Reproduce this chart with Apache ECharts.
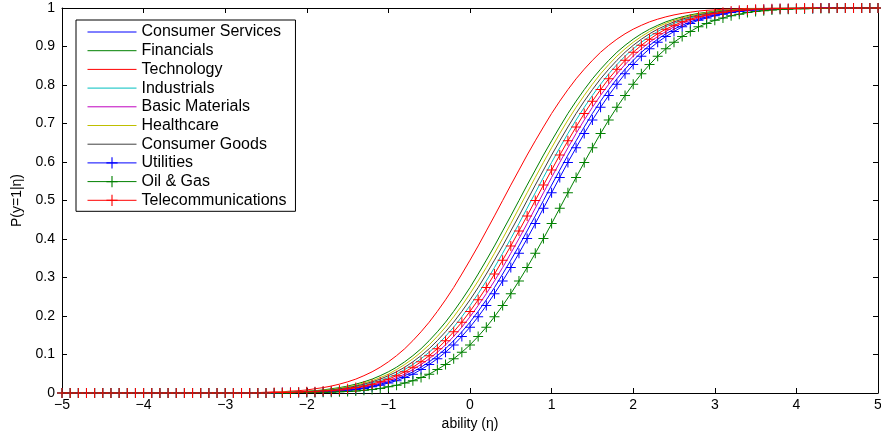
<!DOCTYPE html>
<html>
<head>
<meta charset="utf-8">
<script src="https://cdn.jsdelivr.net/npm/echarts@6/dist/echarts.min.js"></script>
<style>
html,body{margin:0;padding:0;background:#fff;}
#main{width:881px;height:434px;}
</style>
</head>
<body>
<div id="main"></div>
<script>
// ability grid (x)
var xs = [
  -5,-4.9,-4.8,-4.7,-4.6,-4.5,-4.4,-4.3,-4.2,-4.1,
  -4,-3.9,-3.8,-3.7,-3.6,-3.5,-3.4,-3.3,-3.2,-3.1,
  -3,-2.9,-2.8,-2.7,-2.6,-2.5,-2.4,-2.3,-2.2,-2.1,
  -2,-1.9,-1.8,-1.7,-1.6,-1.5,-1.4,-1.3,-1.2,-1.1,
  -1,-0.9,-0.8,-0.7,-0.6,-0.5,-0.4,-0.3,-0.2,-0.1,
  0,0.1,0.2,0.3,0.4,0.5,0.6,0.7,0.8,0.9,
  1,1.1,1.2,1.3,1.4,1.5,1.6,1.7,1.8,1.9,
  2,2.1,2.2,2.3,2.4,2.5,2.6,2.7,2.8,2.9,
  3,3.1,3.2,3.3,3.4,3.5,3.6,3.7,3.8,3.9,
  4,4.1,4.2,4.3,4.4,4.5,4.6,4.7,4.8,4.9,
  5
];

var names = ['Consumer Services','Financials','Technology','Industrials','Basic Materials',
  'Healthcare','Consumer Goods','Utilities','Oil & Gas','Telecommunications'];
var colors = ['#0000ff','#008000','#ff0000','#00bfbf','#bf00bf',
  '#bfbf00','#404040','#0000ff','#008000','#ff0000'];
var hasMarker = [false,false,false,false,false,false,false,true,true,true];

var xTicks = [-5,-4,-3,-2,-1,0,1,2,3,4,5];
var yTicks = [0,0.1,0.2,0.3,0.4,0.5,0.6,0.7,0.8,0.9,1];

// P(y=1|eta)
var consumerServices = [
  0,0,0,0,0,0,0,0,0,0, 0,0,0,0,0,0,0,0,0,0, 0,0,0,0,0,0,0,
  0.001,0.001,0.001,0.002,0.003,0.003,0.005,0.006,0.008,0.011,
  0.014,0.018,0.023,0.029,0.036,0.045,0.055,0.067,0.081,0.097,
  0.115,0.136,0.159,0.184,0.212,0.242,0.274,0.309,0.345,0.382,
  0.421,0.460,0.500,
  0.540,0.579,0.618,0.655,0.691,0.726,0.758,0.788,0.816,0.841,
  0.864,0.885,0.903,0.919,0.933,0.945,0.955,0.964,0.971,0.977,
  0.982,0.986,0.989,0.992,0.994,0.995,0.997,0.997,0.998,0.999,
  0.999,0.999,
  1,1,1,1,1,1,1,1,1
];
var financials = [
  0,0,0,0,0,0,0,0,0,0, 0,0,0,0,0,0,0,0,0,0, 0,0,0,0,
  0.001,0.001,0.001,0.002,0.003,0.003,0.005,0.006,0.008,0.011,
  0.014,0.018,0.023,0.029,0.036,0.045,0.055,0.067,0.081,0.097,
  0.115,0.136,0.159,0.184,0.212,0.242,0.274,0.309,0.345,0.382,
  0.421,0.460,0.500,
  0.540,0.579,0.618,0.655,0.691,0.726,0.758,0.788,0.816,0.841,
  0.864,0.885,0.903,0.919,0.933,0.945,0.955,0.964,0.971,0.977,
  0.982,0.986,0.989,0.992,0.994,0.995,0.997,0.997,0.998,0.999,
  0.999,0.999,
  1,1,1,1,1,1,1,1,1,1, 1,1
];
var technology = [
  0,0,0,0,0,0,0,0,0,0, 0,0,0,0,0,0,0,0,0,0, 0,0,
  0.001,0.001,0.001,0.002,0.003,0.003,0.005,0.006,0.008,0.011,
  0.014,0.018,0.023,0.029,0.036,0.045,0.055,0.067,0.081,0.097,
  0.115,0.136,0.159,0.184,0.212,0.242,0.274,0.309,0.345,0.382,
  0.421,0.460,0.500,
  0.540,0.579,0.618,0.655,0.691,0.726,0.758,0.788,0.816,0.841,
  0.864,0.885,0.903,0.919,0.933,0.945,0.955,0.964,0.971,0.977,
  0.982,0.986,0.989,0.992,0.994,0.995,0.997,0.997,0.998,0.999,
  0.999,0.999,
  1,1,1,1,1,1,1,1,1,1, 1,1,1,1
];
var industrials = [
  0,0,0,0,0,0,0,0,0,0, 0,0,0,0,0,0,0,0,0,0, 0,0,0,0,0,
  0.001,0.001,0.001,0.002,0.002,0.003,0.004,0.005,0.007,0.009,
  0.012,0.016,0.020,0.026,0.032,0.040,0.049,0.061,0.074,0.089,
  0.106,0.125,0.147,0.171,0.198,0.227,0.258,0.291,0.326,0.363,
  0.401,0.440,0.480,
  0.520,0.560,0.599,0.637,0.674,0.709,0.742,0.773,0.802,0.829,
  0.853,0.875,0.894,0.911,0.926,0.939,0.951,0.960,0.968,0.974,
  0.980,0.984,0.988,0.991,0.993,0.995,0.996,0.997,0.998,0.998,
  0.999,0.999,0.999,
  1,1,1,1,1,1,1,1,1,1
];
var basicMaterials = [
  0,0,0,0,0,0,0,0,0,0, 0,0,0,0,0,0,0,0,0,0, 0,0,0,0,0,0,
  0.001,0.001,0.001,0.002,0.002,0.003,0.004,0.005,0.007,0.009,
  0.012,0.016,0.020,0.026,0.032,0.040,0.049,0.061,0.074,0.089,
  0.106,0.125,0.147,0.171,0.198,0.227,0.258,0.291,0.326,0.363,
  0.401,0.440,0.480,
  0.520,0.560,0.599,0.637,0.674,0.709,0.742,0.773,0.802,0.829,
  0.853,0.875,0.894,0.911,0.926,0.939,0.951,0.960,0.968,0.974,
  0.980,0.984,0.988,0.991,0.993,0.995,0.996,0.997,0.998,0.998,
  0.999,0.999,0.999,
  1,1,1,1,1,1,1,1,1
];
var healthcare = [
  0,0,0,0,0,0,0,0,0,0, 0,0,0,0,0,0,0,0,0,0, 0,0,0,0,
  0.001,0.001,0.001,0.002,0.002,0.003,0.004,0.005,0.007,0.009,
  0.012,0.016,0.020,0.026,0.032,0.040,0.049,0.061,0.074,0.089,
  0.106,0.125,0.147,0.171,0.198,0.227,0.258,0.291,0.326,0.363,
  0.401,0.440,0.480,
  0.520,0.560,0.599,0.637,0.674,0.709,0.742,0.773,0.802,0.829,
  0.853,0.875,0.894,0.911,0.926,0.939,0.951,0.960,0.968,0.974,
  0.980,0.984,0.988,0.991,0.993,0.995,0.996,0.997,0.998,0.998,
  0.999,0.999,0.999,
  1,1,1,1,1,1,1,1,1,1, 1
];
var consumerGoods = [
  0,0,0,0,0,0,0,0,0,0, 0,0,0,0,0,0,0,0,0,0, 0,0,0,0,0,
  0.001,0.001,0.001,0.002,0.003,0.003,0.005,0.006,0.008,0.011,
  0.014,0.018,0.023,0.029,0.036,0.045,0.055,0.067,0.081,0.097,
  0.115,0.136,0.159,0.184,0.212,0.242,0.274,0.309,0.345,0.382,
  0.421,0.460,0.500,
  0.540,0.579,0.618,0.655,0.691,0.726,0.758,0.788,0.816,0.841,
  0.864,0.885,0.903,0.919,0.933,0.945,0.955,0.964,0.971,0.977,
  0.982,0.986,0.989,0.992,0.994,0.995,0.997,0.997,0.998,0.999,
  0.999,0.999,
  1,1,1,1,1,1,1,1,1,1, 1
];
var utilities = [
  0,0,0,0,0,0,0,0,0,0, 0,0,0,0,0,0,0,0,0,0, 0,0,0,0,0,0,0,
  0.001,0.001,0.001,0.002,0.002,0.003,0.004,0.005,0.007,0.009,
  0.012,0.016,0.020,0.026,0.032,0.040,0.049,0.061,0.074,0.089,
  0.106,0.125,0.147,0.171,0.198,0.227,0.258,0.291,0.326,0.363,
  0.401,0.440,0.480,
  0.520,0.560,0.599,0.637,0.674,0.709,0.742,0.773,0.802,0.829,
  0.853,0.875,0.894,0.911,0.926,0.939,0.951,0.960,0.968,0.974,
  0.980,0.984,0.988,0.991,0.993,0.995,0.996,0.997,0.998,0.998,
  0.999,0.999,0.999,
  1,1,1,1,1,1,1,1
];
var oilGas = [
  0,0,0,0,0,0,0,0,0,0, 0,0,0,0,0,0,0,0,0,0, 0,0,0,0,0,0,0,0,0,
  0.001,0.001,0.001,0.002,0.002,0.003,0.004,0.005,0.007,0.009,
  0.012,0.016,0.020,0.026,0.032,0.040,0.049,0.061,0.074,0.089,
  0.106,0.125,0.147,0.171,0.198,0.227,0.258,0.291,0.326,0.363,
  0.401,0.440,0.480,
  0.520,0.560,0.599,0.637,0.674,0.709,0.742,0.773,0.802,0.829,
  0.853,0.875,0.894,0.911,0.926,0.939,0.951,0.960,0.968,0.974,
  0.980,0.984,0.988,0.991,0.993,0.995,0.996,0.997,0.998,0.998,
  0.999,0.999,0.999,
  1,1,1,1,1,1
];
var telecom = [
  0,0,0,0,0,0,0,0,0,0, 0,0,0,0,0,0,0,0,0,0, 0,0,0,0,0,0,
  0.001,0.001,0.001,0.002,0.003,0.003,0.005,0.006,0.008,0.011,
  0.014,0.018,0.023,0.029,0.036,0.045,0.055,0.067,0.081,0.097,
  0.115,0.136,0.159,0.184,0.212,0.242,0.274,0.309,0.345,0.382,
  0.421,0.460,0.500,
  0.540,0.579,0.618,0.655,0.691,0.726,0.758,0.788,0.816,0.841,
  0.864,0.885,0.903,0.919,0.933,0.945,0.955,0.964,0.971,0.977,
  0.982,0.986,0.989,0.992,0.994,0.995,0.997,0.997,0.998,0.999,
  0.999,0.999,
  1,1,1,1,1,1,1,1,1,1
];

var values = [consumerServices, financials, technology, industrials, basicMaterials,
  healthcare, consumerGoods, utilities, oilGas, telecom];

var myChart = echarts.init(document.getElementById('main'));

var plus = 'path://M0,4.5H10V5.5H0ZM4.5,0H5.5V10H4.5Z';
var font = 'Liberation Sans';

var series = names.map(function (name, k) {
  return {
    name: name,
    type: 'line',
    data: xs.map(function (x, i) { return [x, values[k][i]]; }),
    symbol: hasMarker[k] ? plus : 'none',
    showSymbol: hasMarker[k],
    symbolSize: 10,
    lineStyle: { color: colors[k], width: 1 },
    itemStyle: { color: colors[k] },
    emphasis: { disabled: true }
  };
});

// plain lines get no marker in the legend
var legendData = names.map(function (name, k) {
  return hasMarker[k] ? { name: name } : { name: name, itemStyle: { opacity: 0 } };
});

function minusFmt(v) {
  return String(v).replace('-', '\u2212');
}

var boxAxis = {
  axisLine: { show: true, onZero: false, lineStyle: { color: '#000', width: 1 } },
  axisTick: { show: true, inside: true, length: 5, lineStyle: { color: '#000' } },
  splitLine: { show: false }
};

var option = {
  animation: false,
  grid: { left: 62, right: 3, top: 8, bottom: 41, containLabel: false, outerBoundsMode: 'none' },
  legend: {
    data: legendData,
    orient: 'vertical',
    left: 76,
    top: 20,
    padding: [4, 9, 3, 11],
    itemWidth: 49,
    itemHeight: 14,
    itemGap: 2.7,
    backgroundColor: '#fff',
    borderColor: '#000',
    borderWidth: 1,
    borderRadius: 0,
    lineStyle: { width: 1 },
    textStyle: { fontFamily: font, fontSize: 16, color: '#000' }
  },
  xAxis: [
    Object.assign({}, boxAxis, {
      type: 'value', min: xTicks[0], max: xTicks[xTicks.length - 1], interval: 1,
      name: 'ability (\u03b7)', nameLocation: 'middle', nameGap: 21,
      nameTextStyle: { fontFamily: font, fontSize: 14, color: '#000' },
      axisLabel: { fontFamily: font, fontSize: 14, color: '#000', margin: 5, formatter: minusFmt }
    }),
    Object.assign({}, boxAxis, {
      type: 'value', position: 'top', min: xTicks[0], max: xTicks[xTicks.length - 1], interval: 1,
      axisLabel: { show: false }
    })
  ],
  yAxis: [
    Object.assign({}, boxAxis, {
      type: 'value', min: yTicks[0], max: yTicks[yTicks.length - 1], interval: 0.1,
      name: 'P(y=1|\u03b7)', nameLocation: 'middle', nameGap: 38, nameRotate: 90,
      nameTextStyle: { fontFamily: font, fontSize: 14, color: '#000' },
      axisLabel: { fontFamily: font, fontSize: 14, color: '#000', margin: 7 }
    }),
    Object.assign({}, boxAxis, {
      type: 'value', position: 'right', min: yTicks[0], max: yTicks[yTicks.length - 1], interval: 0.1,
      axisLabel: { show: false }
    })
  ],
  series: series
};

myChart.setOption(option);
</script>
</body>
</html>
